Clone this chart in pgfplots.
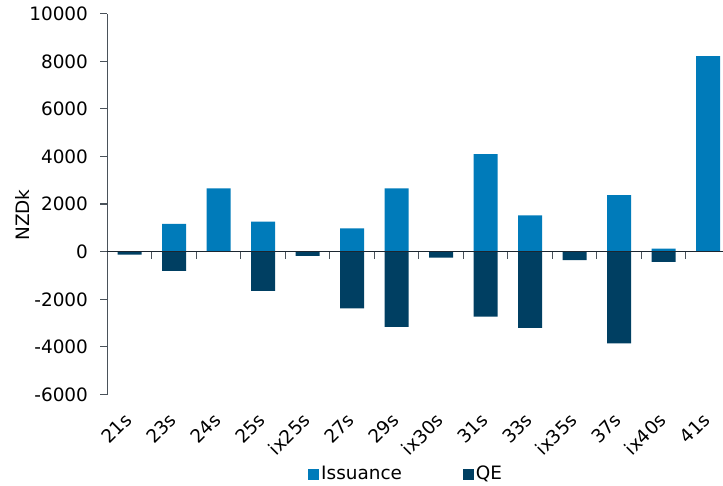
\documentclass[border=0pt]{standalone}
\usepackage{pgfplots}
\pgfplotsset{compat=1.18}
\usepackage{pgfplotstable}
\usepackage{fontspec}
\setmainfont{DejaVu Sans}

\definecolor{issue}{HTML}{007BBA}
\definecolor{qe}{HTML}{003F62}
\definecolor{axisgray}{HTML}{4A525A}
\definecolor{zeroline}{HTML}{1C2630}

% bond lines: issuance vs QE purchases (NZD thousands)
\pgfplotstableread{
idx name  issuance qe
0   21s   0     -126
1   23s   1170  -810
2   24s   2660  0
3   25s   1260  -1650
4   ix25s 0     -175
5   27s   980   -2380
6   29s   2660  -3160
7   ix30s 0     -250
8   31s   4100  -2730
9   33s   1530  -3200
10  ix35s 0     -350
11  37s   2380  -3850
12  ix40s 130   -430
13  41s   8220  0
}\bonds

\begin{document}
\fontsize{18.5}{22}\selectfont
\begin{tikzpicture}
\useasboundingbox (0,0) rectangle (723bp,486bp);
\begin{axis}[
  at={(107.3bp,91.5bp)}, anchor=south west,
  scale only axis,
  width=615.7bp, height=380.8bp,
  xmin=-0.5, xmax=13.336,
  ymin=-6000, ymax=10000,
  ytick={-6000,-4000,...,10000},
  scaled y ticks=false,
  xtick={0,...,13},
  xticklabels={21s,23s,24s,25s,ix25s,27s,29s,ix30s,31s,33s,ix35s,37s,ix40s,41s},
  axis x line*=bottom,
  x axis line style={draw=none},
  xtick style={draw=none},
  axis y line*=left,
  y axis line style={draw=axisgray, line width=1.2bp, -},
  ytick style={draw=axisgray, line width=1.2bp},
  tick align=outside,
  major tick length=7bp,
  /pgf/number format/assume math mode=true,
  /pgf/number format/1000 sep={},
  yticklabel style={font=\fontsize{18.5}{22}\selectfont, anchor=east, xshift=-6bp},
  xticklabel style={font=\fontsize{18.5}{22}\selectfont, rotate=45, anchor=north east,
    inner sep=0pt, xshift=-11.6bp, yshift=-2.7bp},
  ylabel={NZDk},
  ylabel style={font=\fontsize{18.5}{22}\selectfont, at={(axis description cs:-0.138,0.471)}, anchor=center},
  clip=false,
  legend style={at={(axis description cs:0.326,-0.209)}, anchor=west,
    draw=none, fill=none, inner sep=0pt,
    font=\fontsize{18.5}{22}\selectfont,
    legend columns=2,
    /tikz/every even column/.append style={column sep=59bp},
    nodes={inner sep=2bp}},
  legend image code/.code={\path[#1,draw=none] (0bp,-5.5bp) rectangle (11bp,5.5bp);},
]
\addplot[ybar, bar width=24bp, bar shift=0pt, fill=issue, draw=none]
  table[x=idx, y=issuance] {\bonds};
\addlegendentry{Issuance}
\addplot[ybar, bar width=24bp, bar shift=0pt, fill=qe, draw=none]
  table[x=idx, y=qe] {\bonds};
\addlegendentry{QE}

% zero line with category separators
\draw[zeroline, line width=1.6bp] (axis cs:-0.5,0) -- (axis cs:13.336,0);
\pgfplotsinvokeforeach{0.5,1.5,...,12.5}{
  \draw[axisgray, line width=1.2bp] (axis cs:#1,0) -- ([yshift=-7bp]axis cs:#1,0);
}
\end{axis}
\end{tikzpicture}
\end{document}
